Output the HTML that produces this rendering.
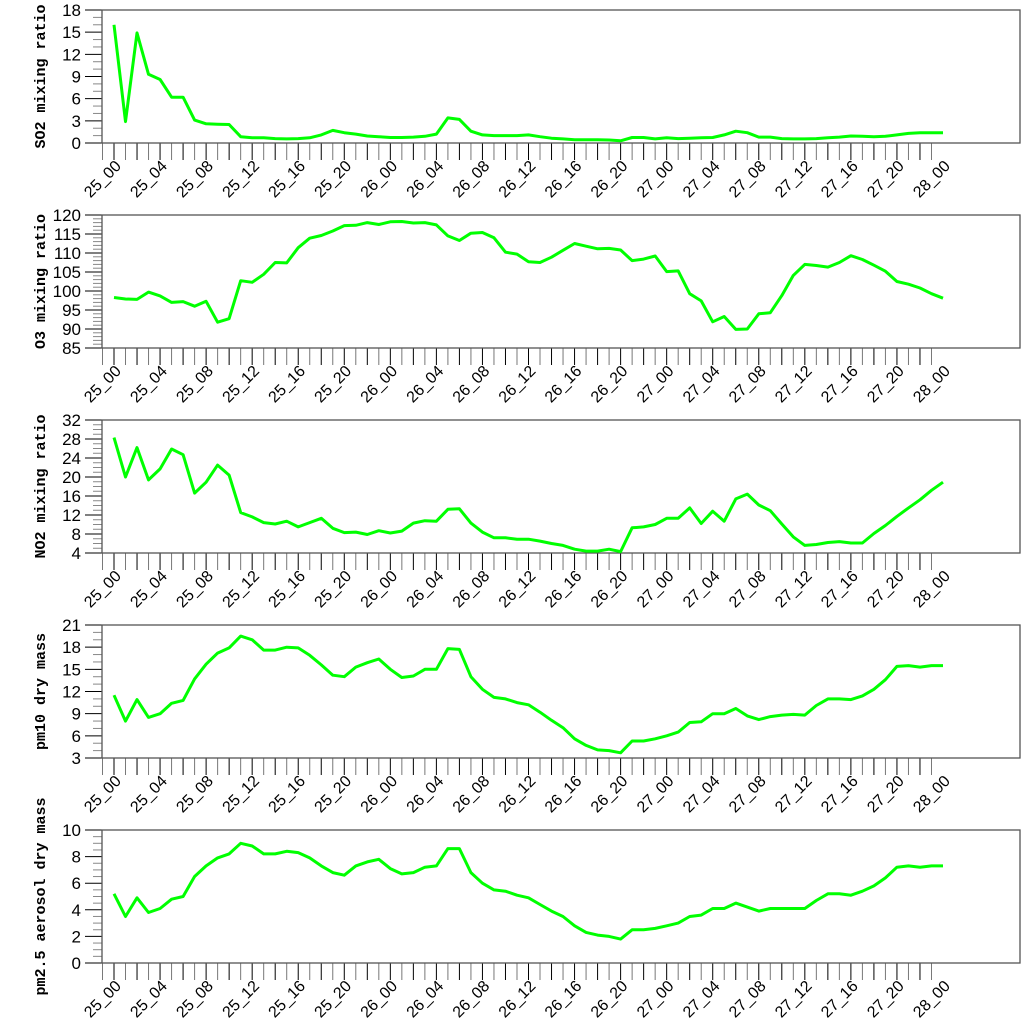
<!DOCTYPE html>
<html><head><meta charset="utf-8"><style>
html,body{margin:0;padding:0;background:#fff;}
svg{display:block;}
</style></head><body>
<svg id="chart" width="1024" height="1024" viewBox="0 0 1024 1024" xmlns="http://www.w3.org/2000/svg"></svg>
<script>
const hours = Array.from({length:73},(_,i)=>i);
const xTickLabels = ["25_00","25_04","25_08","25_12","25_16","25_20","26_00","26_04","26_08","26_12","26_16","26_20","27_00","27_04","27_08","27_12","27_16","27_20","28_00"];
const so2 = [16.0,2.9,14.9,9.3,8.6,6.2,6.2,3.1,2.6,2.55,2.5,0.85,0.7,0.7,0.6,0.55,0.6,0.7,1.1,1.7,1.4,1.2,0.95,0.85,0.75,0.75,0.8,0.9,1.2,3.4,3.2,1.6,1.1,1.0,1.0,1.0,1.1,0.85,0.65,0.55,0.45,0.45,0.45,0.4,0.3,0.75,0.75,0.55,0.7,0.6,0.65,0.7,0.75,1.1,1.6,1.4,0.8,0.8,0.6,0.55,0.55,0.6,0.7,0.8,0.95,0.9,0.85,0.9,1.1,1.3,1.4,1.4,1.4];
const o3 = [98.3,97.9,97.8,99.7,98.7,97.0,97.2,96.0,97.3,91.8,92.7,102.7,102.3,104.4,107.5,107.4,111.4,113.9,114.6,115.8,117.2,117.3,118.0,117.5,118.2,118.3,117.9,118.0,117.4,114.5,113.3,115.2,115.4,114.0,110.2,109.7,107.7,107.5,108.9,110.7,112.5,111.8,111.1,111.2,110.8,108.0,108.4,109.2,105.1,105.3,99.3,97.4,91.9,93.3,89.9,90.0,94.0,94.3,98.8,104.1,107.0,106.7,106.3,107.5,109.3,108.3,106.8,105.2,102.5,101.8,100.8,99.3,98.1];
const no2 = [28.3,20.0,26.2,19.4,21.7,25.9,24.7,16.6,18.9,22.5,20.4,12.5,11.6,10.4,10.1,10.7,9.5,10.4,11.3,9.2,8.3,8.4,7.9,8.7,8.2,8.6,10.3,10.8,10.7,13.2,13.3,10.3,8.4,7.2,7.2,6.9,6.9,6.5,6.0,5.6,4.8,4.4,4.4,4.8,4.3,9.3,9.5,10.0,11.3,11.3,13.5,10.2,12.8,10.7,15.4,16.4,14.1,12.9,10.1,7.4,5.6,5.8,6.2,6.4,6.1,6.1,8.1,9.8,11.7,13.5,15.2,17.2,18.9];
const pm10 = [11.5,8.0,10.9,8.5,9.0,10.4,10.8,13.7,15.7,17.2,17.9,19.5,19.0,17.6,17.6,18.0,17.9,16.9,15.6,14.2,14.0,15.3,15.9,16.4,15.0,13.9,14.1,15.0,15.0,17.8,17.7,14.0,12.3,11.2,11.0,10.5,10.2,9.2,8.1,7.1,5.6,4.7,4.1,4.0,3.7,5.3,5.3,5.6,6.0,6.5,7.8,7.9,9.0,9.0,9.7,8.7,8.2,8.6,8.8,8.9,8.8,10.1,11.0,11.0,10.9,11.4,12.3,13.6,15.4,15.5,15.3,15.5,15.5];
const pm25 = [5.2,3.5,4.9,3.8,4.1,4.8,5.0,6.5,7.3,7.9,8.2,9.0,8.8,8.2,8.2,8.4,8.3,7.9,7.3,6.8,6.6,7.3,7.6,7.8,7.1,6.7,6.8,7.2,7.3,8.6,8.6,6.8,6.0,5.5,5.4,5.1,4.9,4.4,3.9,3.5,2.8,2.3,2.1,2.0,1.8,2.5,2.5,2.6,2.8,3.0,3.5,3.6,4.1,4.1,4.5,4.2,3.9,4.1,4.1,4.1,4.1,4.7,5.2,5.2,5.1,5.4,5.8,6.4,7.2,7.3,7.2,7.3,7.3];
const panelTitles = ["SO2 mixing ratio","O3 mixing ratio","NO2 mixing ratio","pm10 dry mass","pm2.5 aerosol dry mass"];
const yMins = [0,85,4,3,0];
const yMaxs = [18,120,32,21,10];
const yMajorSteps = [3,5,4,3,2];
const yMinorSteps = [1,1,1,1,0.5];

const NS="http://www.w3.org/2000/svg";
const svg=document.getElementById('chart');
function mk(tag,attrs,parent){const e=document.createElementNS(NS,tag);for(const k in attrs)e.setAttribute(k,attrs[k]);(parent||svg).appendChild(e);return e;}
const L=102,R=1020,H=133;
const tops=[10,215,420,625,830];
function xScale(h){return 114+h*(943-114)/72;}
const series=[so2,o3,no2,pm10,pm25];
const names=["so2","o3","no2","pm10","pm25"];
series.forEach((data,p)=>{
  const top=tops[p],bot=top+H;
  const ymin=yMins[p],ymax=yMaxs[p];
  const yS=v=>bot-(v-ymin)/(ymax-ymin)*H;
  const g=mk('g',{});
  
  
  const nMin=Math.round((ymax-ymin)/yMinorSteps[p]);
  for(let i=0;i<=nMin;i++){const v=ymin+i*yMinorSteps[p];const y=yS(v);
    const isMaj=Math.abs((v-ymin)/yMajorSteps[p]-Math.round((v-ymin)/yMajorSteps[p]))<1e-6;
    const t=mk('line',{x1:isMaj?85:93,x2:L,y1:y,y2:y,stroke:isMaj?'#000':'#888','stroke-width':1},g);
    
    
    if(isMaj){const tx=mk('text',{x:81,y:y+6,'text-anchor':'end','font-family':'Liberation Sans, sans-serif','font-size':17,fill:'#000'},g);tx.textContent=String(v);
      
      }
  }
  for(let h=-1;h<=71;h++){const x=xScale(h);
    const t=mk('line',{x1:x,x2:x,y1:bot,y2:bot+17,stroke:(h%2===0)?'#000':'#777','stroke-width':1},g);
    
    }
  xTickLabels.forEach((lab,i)=>{const x=xScale(i*4)+8,y=bot+24;
    const tx=mk('text',{x:x,y:y,'text-anchor':'end','font-family':'Liberation Sans, sans-serif','font-size':16,fill:'#000',transform:`rotate(-45 ${x} ${y})`},g);
    tx.textContent=lab;
    
    });
  const fr=mk('rect',{x:L,y:top,width:R-L,height:H,fill:'none',stroke:'#555','stroke-width':1.3},g);
  
  
  const cy=top+H/2;
  const yt=mk('text',{x:45,y:cy,'text-anchor':'middle','font-family':'Liberation Mono, monospace','font-weight':'bold','font-size':15,fill:'#000',transform:`rotate(-90 45 ${cy})`},g);
  yt.textContent=panelTitles[p];
  
  
  const pts=data.map((v,i)=>xScale(hours[i]).toFixed(1)+','+yS(v).toFixed(1)).join(' ');
  const pl=mk('polyline',{points:pts,fill:'none',stroke:'#00ff00','stroke-width':3,'stroke-linejoin':'round'},g);
  
  
});
</script>
</body></html>
